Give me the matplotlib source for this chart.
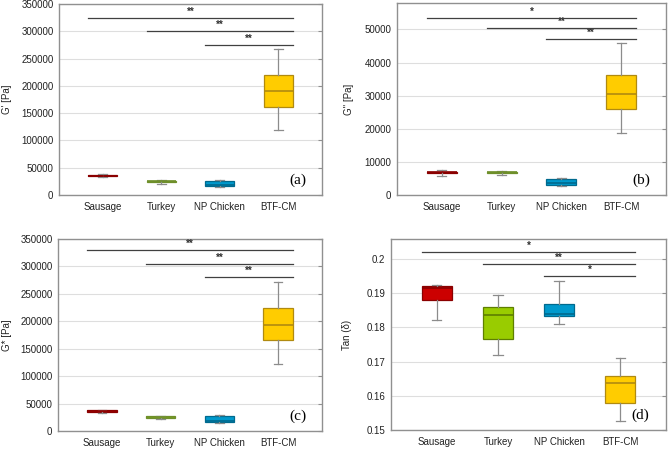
import matplotlib
matplotlib.use("Agg")
import matplotlib.pyplot as plt

# categories and colours
categories = ["Sausage", "Turkey", "NP Chicken", "BTF-CM"]
fill_colors = ["#CC0000", "#99CC00", "#0099CC", "#FFCC00"]
edge_colors = ["#8A0000", "#5E7F00", "#006A8E", "#B08A10"]
turkey_dark = "#6E8F2A"

# (a) G' [Pa]
a_low = [33000, 21000, 15000, 120000]
a_q1 = [34000, 23500, 16500, 162000]
a_med = [35500, 25000, 18000, 190000]
a_q3 = [37000, 26000, 26000, 220000]
a_high = [38000, 27000, 28000, 268000]
a_sig = [325000, 300000, 275000]
a_stars = ["**", "**", "**"]

# (b) G" [Pa]
b_low = [5800, 5900, 2800, 18800]
b_q1 = [6500, 6500, 3000, 26000]
b_med = [6800, 6800, 3700, 30500]
b_q3 = [7000, 7000, 4900, 36300]
b_high = [7500, 7400, 5200, 46000]
b_sig = [53500, 50300, 47000]
b_stars = ["*", "**", "**"]

# (c) G* [Pa]
c_low = [33000, 21500, 15000, 122000]
c_q1 = [34500, 23500, 16500, 165000]
c_med = [36000, 25000, 19000, 194000]
c_q3 = [38000, 26500, 26500, 224000]
c_high = [39000, 27500, 29000, 272000]
c_sig = [330000, 305000, 280000]
c_stars = ["**", "**", "**"]

# (d) Tan (delta)
d_low = [0.1822, 0.1720, 0.1810, 0.1525]
d_q1 = [0.1880, 0.1766, 0.1832, 0.1578]
d_med = [0.1915, 0.1835, 0.1838, 0.1636]
d_q3 = [0.1922, 0.1860, 0.1868, 0.1657]
d_high = [0.1924, 0.1895, 0.1935, 0.1710]
d_sig = [0.2021, 0.1985, 0.1950]
d_stars = ["*", "**", "*"]

plt.rcParams["font.family"] = "Liberation Sans"
plt.rcParams["font.size"] = 7

fig = plt.figure(figsize=(6.68, 4.49), dpi=100)
W, H = 668, 449


def add_axes(l, r, t, b):
    return fig.add_axes([l / W, (H - b) / H, (r - l) / W, (b - t) / H])


def panel(ax, low, q1, med, q3, high, sig, stars, ylim, yticks, ylabel, letter, dark_turkey):
    stats = []
    for i in range(4):
        stats.append({"whislo": low[i], "q1": q1[i], "med": med[i],
                      "q3": q3[i], "whishi": high[i], "fliers": []})
    for i in range(4):
        ec = edge_colors[i]
        if i == 1 and dark_turkey:
            ec = turkey_dark
        ax.bxp([stats[i]], positions=[i + 1], widths=0.5, patch_artist=True,
               showfliers=False,
               boxprops=dict(facecolor=fill_colors[i], edgecolor=ec, linewidth=0.9),
               medianprops=dict(color=ec, linewidth=1.2),
               whiskerprops=dict(color="#8c8c8c", linewidth=0.9),
               capprops=dict(color="#8c8c8c", linewidth=0.9),
               capwidths=0.15, zorder=3)
    # significance bars
    span = ylim[1] - ylim[0]
    for k, (y, s) in enumerate(zip(sig, stars)):
        x0 = k + 1 - 0.25
        x1 = 4.25
        ax.plot([x0, x1], [y, y], color="#404040", linewidth=0.9, zorder=4)
        ax.text((x0 + x1) / 2, y + span * 0.006, s, ha="center", va="bottom",
                fontsize=7, fontweight="bold", color="#303030")
    ax.set_xlim(0.25, 4.75)
    ax.set_ylim(ylim)
    ax.set_yticks(yticks)
    ax.set_xticks([1, 2, 3, 4])
    ax.set_xticklabels(categories)
    ax.yaxis.grid(True, color="#dedede", linewidth=0.8)
    ax.set_axisbelow(True)
    for sp in ax.spines.values():
        sp.set_color("#909090")
        sp.set_linewidth(1.0)
    ax.tick_params(axis="x", length=0, pad=5, labelsize=7, colors="#222222")
    ax.tick_params(axis="y", left=False, right=True, direction="in", length=3,
                   color="#909090", pad=4, labelsize=7, labelcolor="#222222")
    ax.set_ylabel(ylabel, fontsize=7, color="#222222")
    ax.text(0.94, 0.04, letter, transform=ax.transAxes, ha="right", va="bottom",
            family="Liberation Serif", fontsize=11)


ax_a = add_axes(59, 322, 4, 195)
panel(ax_a, a_low, a_q1, a_med, a_q3, a_high, a_sig, a_stars, (0, 350000),
      range(0, 350001, 50000), "G' [Pa]", "(a)", True)
ax_a.yaxis.set_label_coords(-0.178, 0.5)

ax_b = add_axes(397, 666, 3, 195)
panel(ax_b, b_low, b_q1, b_med, b_q3, b_high, b_sig, b_stars, (0, 58000),
      range(0, 50001, 10000), 'G" [Pa]', "(b)", True)
ax_b.yaxis.set_label_coords(-0.16, 0.5)

ax_c = add_axes(58, 322, 239, 431)
panel(ax_c, c_low, c_q1, c_med, c_q3, c_high, c_sig, c_stars, (0, 350000),
      range(0, 350001, 50000), "G* [Pa]", "(c)", True)
ax_c.yaxis.set_label_coords(-0.175, 0.5)

ax_d = add_axes(391, 666, 239, 430)
panel(ax_d, d_low, d_q1, d_med, d_q3, d_high, d_sig, d_stars, (0.15, 0.2058),
      [0.15, 0.16, 0.17, 0.18, 0.19, 0.2], "Tan (δ)", "(d)", False)
ax_d.set_yticklabels(["0.15", "0.16", "0.17", "0.18", "0.19", "0.2"])
ax_d.yaxis.set_label_coords(-0.142, 0.5)

fig.savefig("out.png", dpi=100)
